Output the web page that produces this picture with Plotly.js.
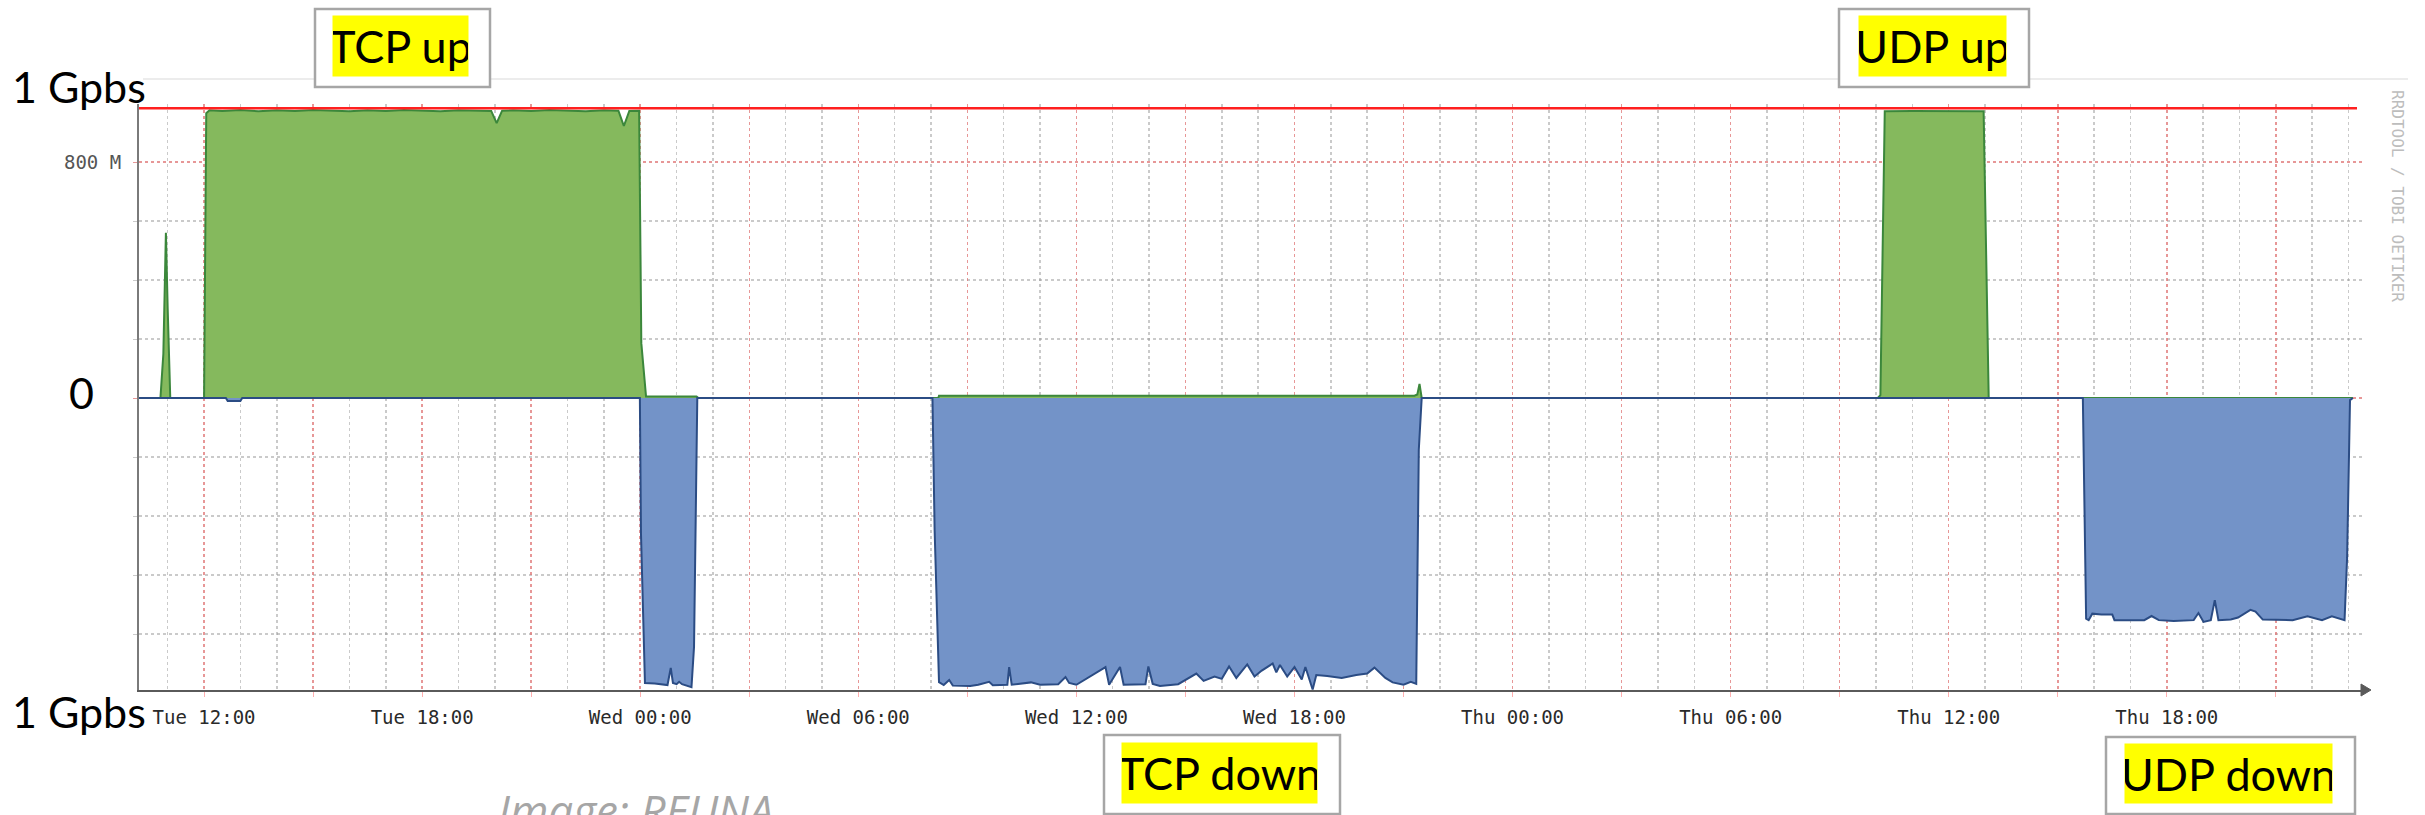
<!DOCTYPE html>
<html>
<head>
<meta charset="utf-8">
<script src="https://cdn.plot.ly/plotly-3.0.1.min.js"></script>
<style>
  html, body { margin: 0; padding: 0; background: #fff; }
  #chart { width: 2425px; height: 815px; }
</style>
</head>
<body>
<div id="chart"></div>
<script>
// hours since Tue 00:00, values in Mbit/s (down = negative)
const upHours = [10.21, 10.8, 10.88, 10.95, 11.0, 11.07, 12.0, 12.06, 12.15, 12.5, 13.0, 13.5, 14.0, 14.5, 15.0, 15.5,
  16.0, 16.5, 17.0, 17.5, 18.0, 18.5, 19.0, 19.5, 19.9, 20.05, 20.2, 20.5, 21.0, 21.5, 22.0, 22.5, 23.0, 23.4,
  23.55, 23.7, 23.97, 24.03, 24.16, 25.55, 25.6, 32.2, 32.22, 45.3, 45.38, 45.44, 45.5, 58.05, 58.12, 58.24,
  59.0, 59.7, 60.4, 60.96, 61.1, 71.12];
const upMbps = [0, 0, 150, 560, 300, 0, 0, 965, 975, 973, 976, 972, 975, 973, 976, 974,
  972, 975, 973, 976, 974, 972, 975, 974, 973, 932, 974, 975, 973, 976, 974, 972, 975, 974,
  922, 973, 974, 186, 5, 5, 0, 0, 8, 8, 12, 48, 0, 0, 10, 972,
  973, 972, 973, 972, 0, 0];

const downHours = [10.21, 12.6, 12.65, 13.0, 13.05, 23.99, 24.02, 24.13, 24.4, 24.65, 24.75, 24.84, 24.9, 25.0,
  25.07, 25.15, 25.41, 25.48, 25.57,
  32.04, 32.1, 32.22, 32.35, 32.5, 32.6, 33.08, 33.3, 33.6, 33.7, 34.1, 34.15, 34.22, 34.75, 35.0, 35.5, 35.7,
  35.8, 36.0, 36.8, 36.9, 37.2, 37.3, 37.9, 37.98, 38.1, 38.3, 38.8, 39.3, 39.5, 39.8, 40.0, 40.2, 40.4, 40.7,
  40.9, 41.1, 41.4, 41.5, 41.6, 41.8, 42.0, 42.2, 42.3, 42.5, 42.6, 42.9, 43.3, 43.7, 44.0, 44.2, 44.5, 44.7,
  45.0, 45.2, 45.35, 45.42, 45.5,
  63.69, 63.78, 63.85, 63.95, 64.2, 64.5, 64.56, 65.38, 65.58, 65.78, 66.19, 66.74, 66.87, 67.01, 67.21, 67.32,
  67.42, 67.76, 67.96, 68.3, 68.44, 68.64, 69.46, 69.87, 70.27, 70.54, 70.89, 70.96, 71.04, 71.12];
const downMbps = [0, 0, -10, -10, 0, 0, -458, -966, -968, -970, -973, -915, -966, -970,
  -962, -970, -980, -844, 0,
  0, -450, -963, -973, -956, -975, -976, -972, -962, -974, -972, -912, -972, -964, -972, -970, -946,
  -966, -972, -912, -972, -912, -972, -970, -910, -969, -976, -970, -934, -959, -944, -952, -910, -949, -903,
  -944, -924, -900, -930, -905, -944, -912, -954, -912, -988, -939, -942, -949, -939, -934, -914, -949, -964,
  -972, -962, -969, -176, 0,
  0, -748, -753, -731, -734, -734, -753, -753, -739, -753, -756, -753, -729, -759, -753, -685,
  -753, -751, -744, -718, -724, -751, -753, -740, -753, -740, -753, -542, -7, 0];

const tickHours = [12, 15, 18, 21, 24, 27, 30, 33, 36, 39, 42, 45, 48, 51, 54, 57, 60, 63, 66, 69];
const tickLabels = ["Tue 12:00", "", "Tue 18:00", "", "Wed 00:00", "", "Wed 06:00", "", "Wed 12:00", "",
  "Wed 18:00", "", "Thu 00:00", "", "Thu 06:00", "", "Thu 12:00", "", "Thu 18:00", ""];
const yTickValues = [0, 800];
const yTickLabels = ["", "800 M"];
const linkCapacity = 982;

// plot area in page pixels
const L = 139, R = 2362, T = 104, B = 690;
const px = (x) => (x - L) / (R - L);
const py = (y) => (B - y) / (B - T);

const redGrid = "rgba(255,110,110,0.55)";
const grayGrid = "rgba(150,150,150,0.5)";

const traces = [
  {
    type: "scatter", mode: "lines", x: upHours, y: upMbps, fill: "tozeroy",
    fillcolor: "#85b95d", line: { color: "#3b873b", width: 2 }, hoverinfo: "skip",
  },
  {
    type: "scatter", mode: "lines", x: downHours, y: downMbps, fill: "tozeroy",
    fillcolor: "#7393c8", line: { color: "#2b4c84", width: 2 }, hoverinfo: "skip",
  },
];

const box = (x0, x1, y0, y1) => ({
  type: "rect", xref: "paper", yref: "paper", layer: "above",
  x0: px(x0), x1: px(x1), y0: py(y1), y1: py(y0),
  fillcolor: "#fff", line: { color: "#a6a6a6", width: 2.5 },
});

const label = (text, x0, x1, y0, y1) => ({
  text, xref: "paper", yref: "paper", showarrow: false,
  x: px((x0 + x1) / 2), y: py((y0 + y1) / 2), xanchor: "center", yanchor: "middle",
  width: x1 - x0, height: y1 - y0, borderpad: 0, bgcolor: "#ffff00",
  font: { family: "Lato", size: 45, color: "#000" },
});

const bigText = (text, x, y, anchor) => ({
  text, xref: "paper", yref: "paper", showarrow: false,
  x: px(x), y: py(y), xanchor: anchor, yanchor: "middle",
  font: { family: "Lato", size: 43, color: "#000" },
});

const layout = {
  width: 2425,
  height: 815,
  margin: { l: L, r: 2425 - R, t: T, b: 815 - B, pad: 0 },
  paper_bgcolor: "#fff",
  plot_bgcolor: "#fff",
  showlegend: false,
  xaxis: {
    range: [10.21, 71.37],
    tickmode: "array",
    tickvals: tickHours,
    ticktext: tickLabels,
    ticks: "outside",
    ticklen: 5,
    tickcolor: redGrid,
    ticklabelstandoff: 4,
    tickfont: { family: "DejaVu Sans Mono", size: 19, color: "#2a2a2a" },
    showgrid: true,
    gridcolor: redGrid,
    griddash: "dot",
    gridwidth: 1.5,
    minor: { dtick: 1, tick0: 0, showgrid: true, gridcolor: grayGrid, griddash: "dot", gridwidth: 1.5 },
    showline: true,
    linecolor: "#5a5a5a",
    linewidth: 2,
    zeroline: false,
    fixedrange: true,
  },
  yaxis: {
    range: [-989.8, 996.6],
    tickmode: "array",
    tickvals: yTickValues,
    ticktext: yTickLabels,
    ticks: "outside",
    ticklen: 4,
    tickcolor: redGrid,
    ticklabelstandoff: 8,
    tickfont: { family: "DejaVu Sans Mono", size: 19, color: "#555" },
    showgrid: true,
    gridcolor: redGrid,
    griddash: "dot",
    gridwidth: 1.5,
    minor: { dtick: 200, tick0: 0, showgrid: true, gridcolor: grayGrid, griddash: "dot", gridwidth: 1.5,
      ticks: "outside", ticklen: 4, tickcolor: grayGrid },
    showline: true,
    linecolor: "#7a7a7a",
    linewidth: 2,
    zeroline: false,
    fixedrange: true,
  },
  shapes: [
    { type: "line", xref: "paper", yref: "paper", x0: px(143), x1: px(2408), y0: py(79), y1: py(79),
      line: { color: "#e6e6e6", width: 1.5 } },
    { type: "line", xref: "paper", yref: "y", x0: 0, x1: px(2357), y0: linkCapacity, y1: linkCapacity,
      layer: "above", line: { color: "#ff2020", width: 2.5 } },
    { type: "path", xref: "paper", yref: "paper", layer: "above",
      path: `M ${px(2361)} ${py(684)} L ${px(2371)} ${py(690)} L ${px(2361)} ${py(696)} Z`,
      fillcolor: "#5a5a5a", line: { color: "#5a5a5a", width: 1 } },
    box(315, 490, 9, 87),
    box(1839, 2029, 9, 87),
    box(1104, 1340, 735, 814),
    box(2106, 2355, 737, 814),
  ],
  annotations: [
    label("TCP up", 333, 468, 16, 76),
    label("UDP up", 1859, 2006, 16, 76),
    label("TCP down", 1122, 1317, 743, 803),
    label("UDP down", 2125, 2332, 744, 803),
    bigText("1 Gpbs", 10, 86, "left"),
    bigText("0", 81, 392, "center"),
    bigText("1 Gpbs", 10, 712, "left"),
    {
      text: "<i>Image: REUNA</i>", xref: "paper", yref: "paper", showarrow: false,
      x: px(496), y: py(810), xanchor: "left", yanchor: "middle",
      font: { family: "Open Sans", size: 44, color: "#a6a6a6" },
    },
    {
      text: "RRDTOOL / TOBI OETIKER", xref: "paper", yref: "paper", showarrow: false,
      x: px(2398), y: py(196), xanchor: "center", yanchor: "middle", textangle: 90,
      font: { family: "DejaVu Sans Mono", size: 16, color: "#bdbdbd" },
    },
  ],
};

Plotly.newPlot("chart", traces, layout, { displayModeBar: false, staticPlot: true });
</script>
</body>
</html>
